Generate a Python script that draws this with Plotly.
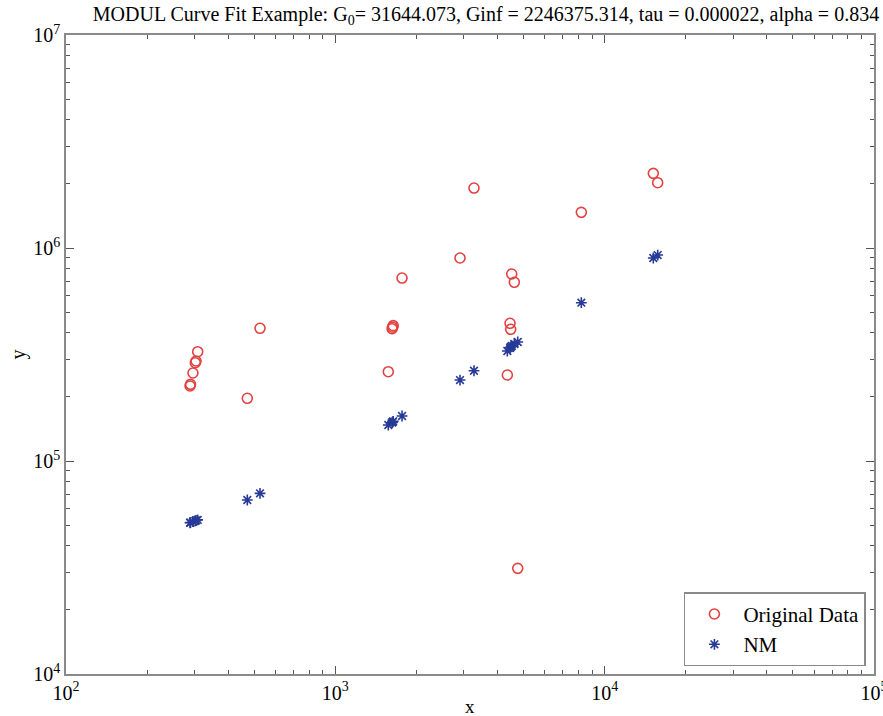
import plotly.graph_objects as go

# ---- data ----
orig_x = [288.8, 290.0, 296.1, 302.1, 303.9, 308.3, 471.2, 525.3, 1573, 1625, 1632, 1640,
          1769, 2904, 3273, 4353, 4454, 4479, 4519, 4621, 4757, 8194, 15160, 15740]
orig_y = [225000, 229000, 258900, 289400, 294800, 326000, 197000, 419800, 262600, 418000, 425000, 432000,
          723000, 897800, 1913000, 253400, 443200, 415300, 755000, 690200, 31340, 1471000, 2242000, 2026000]
nm_y = [51300, 51400, 51900, 52400, 52600, 52900, 65600, 70500, 147600, 151500, 152500, 153500,
        162700, 240000, 265400, 328500, 339300, 343000, 346700, 354300, 362000, 553600, 897800, 927000]

x_major = [1e2, 1e3, 1e4, 1e5]
x_major_text = ["10<sup>2</sup>", "10<sup>3</sup>", "10<sup>4</sup>", "10<sup>5</sup>"]
y_major = [1e4, 1e5, 1e6, 1e7]
y_major_text = ["10<sup>4</sup>", "10<sup>5</sup>", "10<sup>6</sup>", "10<sup>7</sup>"]

title_text = ("MODUL Curve Fit Example: G<sub>0</sub>= 31644.073, Ginf = 2246375.314, "
              "tau = 0.000022, alpha = 0.834")

FONT = "Liberation Serif"
FRAME = "#8a8a8a"

def minor_vals(lo, hi):
    vals = []
    for e in range(lo, hi):
        for d in range(2, 10):
            vals.append(d * 10 ** e)
    return vals

fig = go.Figure()
fig.add_trace(go.Scatter(
    x=orig_x, y=orig_y, mode="markers", name="Original Data",
    marker=dict(symbol="circle-open", size=10, color="rgb(228,64,64)",
                line=dict(width=1.6, color="rgb(228,64,64)")),
))
fig.add_trace(go.Scatter(
    x=orig_x, y=nm_y, mode="markers", name="NM",
    marker=dict(symbol="asterisk-open", size=9, color="rgb(38,58,150)",
                line=dict(width=1.6, color="rgb(38,58,150)")),
))

axis_common = dict(
    type="log", showgrid=False, zeroline=False, automargin=False,
    showline=True, linecolor=FRAME, linewidth=1.5, mirror="ticks",
    ticks="inside", ticklen=8, tickwidth=1, tickcolor="#555555",
    tickfont=dict(family=FONT, size=20, color="black"),
    ticklabeloverflow="allow",
)

fig.update_xaxes(
    **axis_common, range=[2, 5.0002], tickvals=x_major, ticktext=x_major_text,
    minor=dict(ticks="inside", ticklen=4, tickvals=minor_vals(2, 5), tickcolor="#555555"),
)
fig.update_yaxes(
    **axis_common, range=[4, 7.0002], tickvals=y_major, ticktext=y_major_text,
    minor=dict(ticks="inside", ticklen=4, tickvals=minor_vals(4, 7), tickcolor="#555555"),
)

fig.update_layout(
    width=883, height=716,
    margin=dict(l=66, r=9, t=35, b=42, autoexpand=False),
    plot_bgcolor="white", paper_bgcolor="white",
    font=dict(family=FONT, size=20, color="black"),
    title=dict(text=title_text, font=dict(family=FONT, size=20, color="black"),
               x=486 / 883, xanchor="center", xref="container",
               y=1 - 14 / 716, yanchor="middle", yref="container"),
    legend=dict(x=0.99, y=0.012, xanchor="right", yanchor="bottom",
                bordercolor=FRAME, borderwidth=1.5, bgcolor="white",
                font=dict(family=FONT, size=21, color="black"),
                tracegroupgap=0, itemwidth=48),
    showlegend=True,
    annotations=[
        dict(text="x", xref="paper", yref="paper", x=0.5, y=0, yshift=-32,
             xanchor="center", yanchor="middle", showarrow=False,
             font=dict(family=FONT, size=19, color="black")),
        dict(text="y", xref="paper", yref="paper", x=0, y=0.5, xshift=-48,
             xanchor="center", yanchor="middle", showarrow=False, textangle=-90,
             font=dict(family=FONT, size=20, color="black")),
    ],
)

fig.write_html("out.html")
